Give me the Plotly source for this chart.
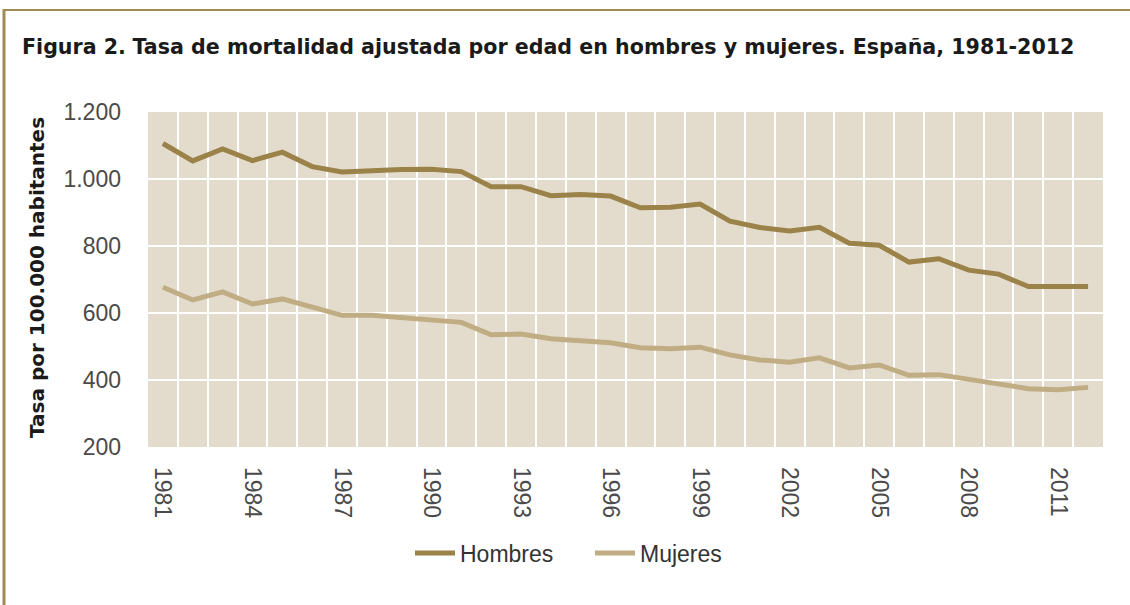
import plotly.graph_objects as go

years = list(range(1981, 2013))
hombres = [1106, 1054, 1090, 1055, 1080, 1037, 1021, 1025, 1028, 1029, 1022, 977,
           977, 950, 954, 949, 914, 916, 925, 874, 855, 845, 856, 808, 802, 752,
           762, 728, 716, 679, 679, 679]
mujeres = [677, 639, 663, 627, 642, 617, 593, 593, 587, 581, 572, 535,
           537, 523, 518, 511, 496, 493, 498, 475, 460, 453, 466, 436, 445, 414,
           416, 402, 388, 374, 371, 378]
x_ticks = [1981, 1984, 1987, 1990, 1993, 1996, 1999, 2002, 2005, 2008, 2011]
y_ticks = [200, 400, 600, 800, 1000, 1200]

W, H = 1130, 605
L, R, T, B = 148, 27, 112, 158
pw, ph = W - L - R, H - T - B

def px(x):
    return (x - L) / pw

def py(y):
    return (H - B - y) / ph

font_family = "Liberation Sans, Arial, sans-serif"
bold_family = "DejaVu Sans, Liberation Sans, sans-serif"
c_h = "#9a8248"
c_m = "#c0ad84"
border = "#a08a55"

fig = go.Figure()
fig.add_trace(go.Scatter(x=years, y=hombres, mode="lines", name="Hombres",
                         line=dict(color=c_h, width=5)))
fig.add_trace(go.Scatter(x=years, y=mujeres, mode="lines", name="Mujeres",
                         line=dict(color=c_m, width=5)))

fig.update_layout(
    width=W, height=H,
    margin=dict(l=L, r=R, t=T, b=B),
    paper_bgcolor="white",
    plot_bgcolor="#e3dccd",
    separators=",.",
    font=dict(family=font_family, size=20, color="#444"),
    title=dict(
        text='<b>Figura 2.</b> '
             '<b>Tasa de mortalidad ajustada por edad en hombres y mujeres. España, 1981-2012</b>',
        x=22 / W, xanchor="left", y=1 - 47 / H, yanchor="middle",
        xref="container", yref="container",
        font=dict(size=20.6, color="#1a1a1a", family=bold_family),
    ),
    showlegend=True,
    legend=dict(orientation="h", x=px(590), xanchor="center", y=py(553), yanchor="middle",
                font=dict(size=23, color="#333"), bgcolor="rgba(0,0,0,0)",
                itemwidth=40, entrywidth=125, entrywidthmode="pixels"),
    xaxis=dict(
        range=[1980.5, 2012.5],
        tickmode="array", tickvals=x_ticks, ticktext=[str(v) for v in x_ticks],
        tickangle=90, showgrid=False, zeroline=False, showline=False,
        ticks="", ticklabelstandoff=19,
        tickfont=dict(size=23, color="#4a4a4a"),
        minor=dict(tick0=1980.5, dtick=1, showgrid=True, gridcolor="white", gridwidth=2),
    ),
    yaxis=dict(
        range=[200, 1200],
        tickmode="array", tickvals=y_ticks, tickformat=",d",
        showgrid=True, gridcolor="white", gridwidth=2,
        zeroline=False, showline=False, ticks="", ticklabelstandoff=26,
        tickfont=dict(size=23, color="#4a4a4a"),
    ),
    shapes=[
        dict(type="line", xref="paper", yref="paper", x0=px(4), x1=px(1135), y0=py(10), y1=py(10),
             line=dict(color=border, width=2)),
        dict(type="line", xref="paper", yref="paper", x0=px(4), x1=px(4), y0=py(9), y1=py(610),
             line=dict(color=border, width=3)),
    ],
    annotations=[
        dict(text="<b>Tasa por 100.000 habitantes</b>", xref="paper", yref="paper",
             x=px(37), y=py(278), xanchor="center", yanchor="middle", textangle=-90,
             showarrow=False, font=dict(size=20, color="#1a1a1a", family=bold_family)),
    ],
)

fig.write_html("out.html", config={"displayModeBar": False},
               post_script="document.body.style.margin='0';")
